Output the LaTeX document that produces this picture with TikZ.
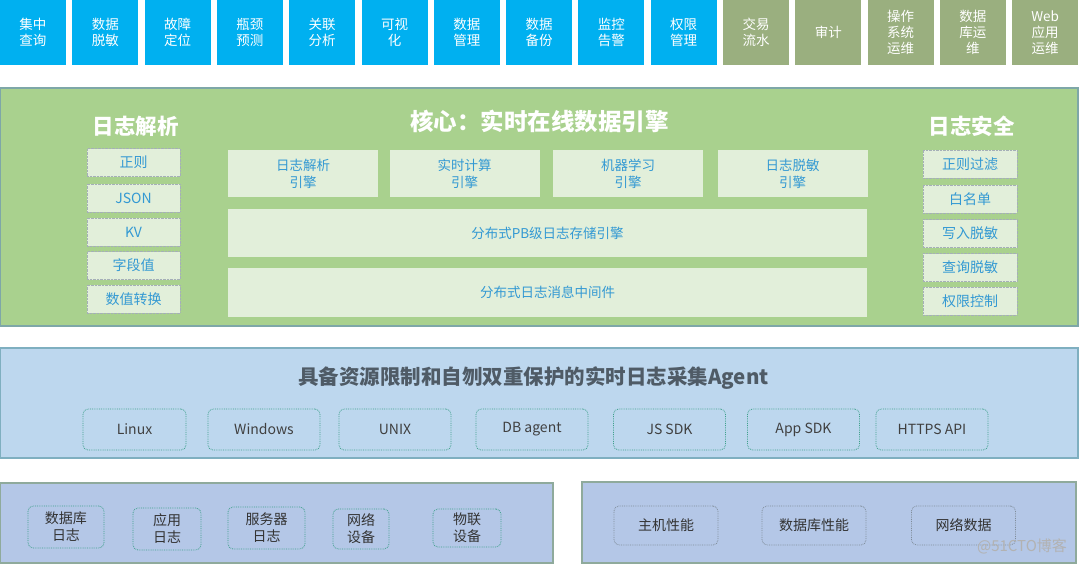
\documentclass[tikz,border=0pt]{standalone}
\usepackage{fontspec}
\setmainfont{Noto Sans CJK SC}
\definecolor{tileblue}{HTML}{00B0F0}
\definecolor{tilegreen}{HTML}{9AAF7F}
\definecolor{corefill}{HTML}{A9D18E}
\definecolor{coreline}{HTML}{7EA7A8}
\definecolor{cellfill}{HTML}{E2EFDA}
\definecolor{celltext}{HTML}{3399D3}
\definecolor{agentfill}{HTML}{BDD7EE}
\definecolor{agentline}{HTML}{7FAFC0}
\definecolor{agenttitle}{HTML}{4F5B66}
\definecolor{srcfill}{HTML}{B4C7E7}
\definecolor{srcline}{HTML}{8FAA9C}
\definecolor{tealdot}{HTML}{3FA08C}
\definecolor{greydot}{HTML}{7F8C99}

\begin{document}
\begin{tikzpicture}[x=1pt,y=-1pt]
\tikzset{tile/.style = {shape=rectangle, text=white, minimum width=66, minimum height=65, inner sep=0, align=center, font=\fontsize{13.5}{16}\selectfont}}
\tikzset{bluetile/.style = {tile, fill=tileblue}}
\tikzset{greentile/.style = {tile, fill=tilegreen}}
\tikzset{panel/.style = {shape=rectangle, inner sep=0, line width=1.2}}
\tikzset{title/.style = {text=white, inner sep=0, font=\bfseries\fontsize{21.5}{24}\selectfont}}
\tikzset{cell/.style = {shape=rectangle, fill=cellfill, draw=greydot!70, densely dotted, minimum width=93, minimum height=28, inner sep=0, text=celltext, font=\fontsize{14}{16}\selectfont}}
\tikzset{engine/.style = {shape=rectangle, fill=cellfill, minimum height=47, inner sep=0, align=center, text=celltext, font=\fontsize{13.5}{17}\selectfont}}
\tikzset{agent/.style = {shape=rectangle, rounded corners=5, draw=tealdot, densely dotted, line width=0.8, minimum width=112, minimum height=41, inner sep=0, text=black!75, font=\fontsize{14}{16}\selectfont}}
\tikzset{source/.style = {agent, minimum height=42, align=center, text=black!80, font=\fontsize{14}{17}\selectfont}}
\tikzset{metric/.style = {agent, draw=greydot, minimum width=104, minimum height=39, text=black!80}}

\useasboundingbox (0,0) rectangle (1080,565);
\fill[white] (0,0) rectangle (1080,565);

\node[bluetile] (t1) at (33,32.5) {集中\\查询};
\node[bluetile] (t2) at (105.3,32.5) {数据\\脱敏};
\node[bluetile] (t3) at (177.6,32.5) {故障\\定位};
\node[bluetile] (t4) at (249.9,32.5) {瓶颈\\预测};
\node[bluetile] (t5) at (322.2,32.5) {关联\\分析};
\node[bluetile] (t6) at (394.5,32.5) {可视\\化};
\node[bluetile] (t7) at (466.8,32.5) {数据\\管理};
\node[bluetile] (t8) at (539.1,32.5) {数据\\备份};
\node[bluetile] (t9) at (611.4,32.5) {监控\\告警};
\node[bluetile] (t10) at (683.7,32.5) {权限\\管理};
\node[greentile] (t11) at (756,32.5) {交易\\流水};
\node[greentile] (t12) at (828.3,32.5) {审计};
\node[greentile] (t13) at (900.6,32.5) {操作\\系统\\运维};
\node[greentile] (t14) at (972.9,32.5) {数据\\库运\\维};
\node[greentile] (t15) at (1045.2,32.5) {Web\\应用\\运维};

\node[panel, fill=corefill, draw=coreline, minimum width=1078, minimum height=238] (core) at (539,207) {};
\node[title] (parse) at (135.5,126) {日志解析};
\node[title, font=\bfseries\fontsize{23.5}{26}\selectfont] (engine) at (539.5,121) {核心：实时在线数据引擎};
\node[title] (safe) at (971.5,126) {日志安全};

\node[cell] (p1) at (133.5,162.5) {正则};
\node[cell] (p2) at (133.5,198) {JSON};
\node[cell] (p3) at (133.5,232) {KV};
\node[cell] (p4) at (133.5,265.5) {字段值};
\node[cell] (p5) at (133.5,299) {数值转换};

\node[engine, minimum width=150] (e1) at (303,173.5) {日志解析\\引擎};
\node[engine, minimum width=150] (e2) at (464.5,173.5) {实时计算\\引擎};
\node[engine, minimum width=150] (e3) at (628,173.5) {机器学习\\引擎};
\node[engine, minimum width=150] (e4) at (792.5,173.5) {日志脱敏\\引擎};
\node[engine, minimum width=639, minimum height=48] (store) at (547.5,233) {分布式PB级日志存储引擎};
\node[engine, minimum width=639, minimum height=49] (mq) at (547.5,292.5) {分布式日志消息中间件};

\node[cell, minimum width=94] (s1) at (970,164) {正则过滤};
\node[cell, minimum width=94] (s2) at (970,199) {白名单};
\node[cell, minimum width=94] (s3) at (970,233.5) {写入脱敏};
\node[cell, minimum width=94] (s4) at (970,267.5) {查询脱敏};
\node[cell, minimum width=94] (s5) at (970,301) {权限控制};

\node[panel, fill=agentfill, draw=agentline, minimum width=1078, minimum height=110] (collect) at (539,403) {};
\node[title, text=agenttitle, font=\bfseries\fontsize{20.5}{23}\selectfont] (agents) at (533.5,378) {具备资源限制和自刎双重保护的实时日志采集Agent};
\node[agent, minimum width=103] (a1) at (134.5,429.5) {Linux};
\node[agent] (a2) at (264,429.5) {Windows};
\node[agent] (a3) at (395,429.5) {UNIX};
\node[agent] (a4) at (532,429.5) {DB agent};
\node[agent] (a5) at (669.5,429.5) {JS SDK};
\node[agent] (a6) at (803.5,429.5) {App SDK};
\node[agent] (a7) at (932,429.5) {HTTPS API};

\node[panel, fill=srcfill, draw=srcline, minimum width=553, minimum height=80] (logs) at (276.5,523) {};
\node[source, minimum width=76] (l1) at (66,527) {数据库\\日志};
\node[source, minimum width=68] (l2) at (167,529) {应用\\日志};
\node[source, minimum width=77] (l3) at (266.5,528) {服务器\\日志};
\node[source, minimum width=56, minimum height=40] (l4) at (361,529) {网络\\设备};
\node[source, minimum width=68, minimum height=38] (l5) at (467,528) {物联\\设备};

\node[panel, fill=srcfill, draw=srcline, minimum width=494, minimum height=81] (perf) at (829,522.5) {};
\node[metric] (m1) at (666,525.5) {主机性能};
\node[metric] (m2) at (814,525.5) {数据库性能};
\node[metric] (m3) at (963.5,525.5) {网络数据};

\node[inner sep=0, text=gray!60, font=\fontsize{15}{17}\selectfont] (mark) at (1022,546) {@51CTO博客};
\end{tikzpicture}
\end{document}
